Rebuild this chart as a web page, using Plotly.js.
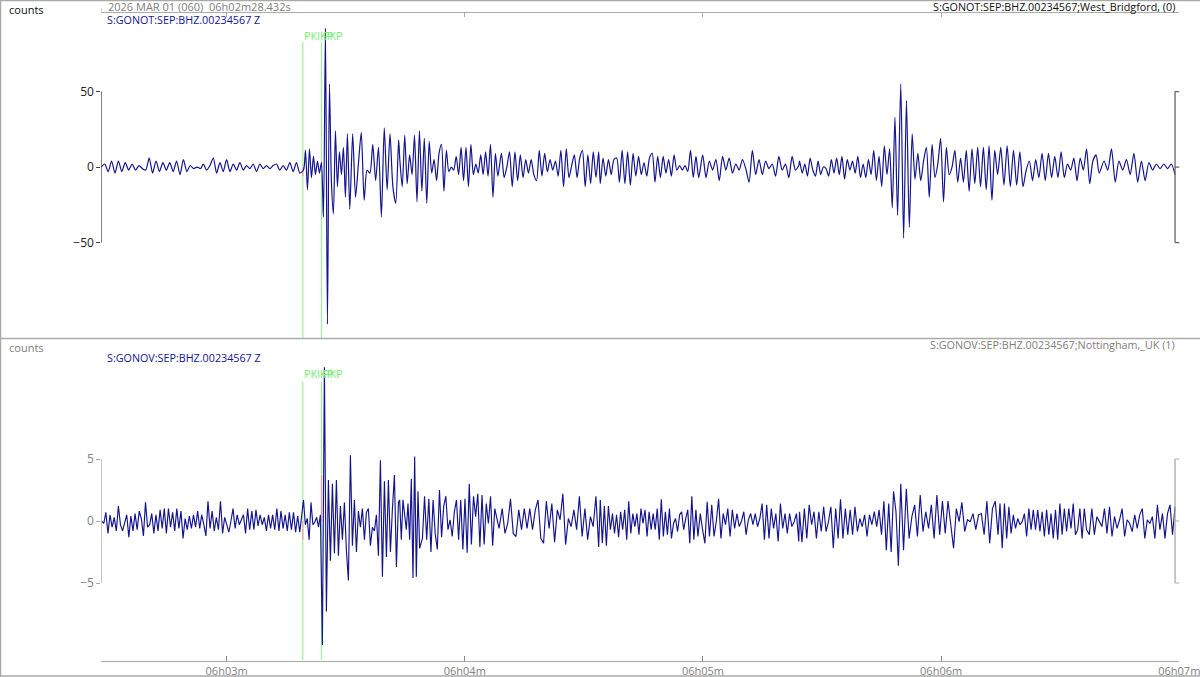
<!DOCTYPE html>
<html><head><meta charset="utf-8">
<script src="https://cdn.plot.ly/plotly-3.0.1.min.js"></script>
<style>html,body{margin:0;padding:0;background:#fff}</style></head>
<body><div id="chart" style="width:1200px;height:677px"></div>
<script>
// Time in seconds after 06h02m28.432s
const tickSeconds = [31.568, 91.568, 151.568, 211.568, 271.568];
const tickLabels = ["06h03m", "06h04m", "06h05m", "06h06m", "06h07m"];
const phaseTimes = [50.76, 55.47];
const phaseNames = ["PKIKP", "PKP"];
const topTicks = [-50, 0, 50];
const bottomTicks = [-5, 0, 5];

const top1 = [0,2,-3,4,-4,4,-3,3,-2,2,-2,1,-1,-2,6,-4,4,-3,3,-2,3,-3,4,-5,5,-3,1,-1,0,-1];
const top2 = [2,-2,1,6,-4,3,-3,5,-3,2,-2,3,-2,1,-1,2,-3,2,-1,1,-1,1,2,-2,1,-2,3,-3,3,-4];
const top3 = [-2,11,-15,12,-7,7,-5,4,-4,3,-33,92,-104,55,-10,-31,24,-13,10,-5,13,-20,22];
const top4 = [-28,22,-20,2,23,-22,-2,-4,15,-9,13,-33,26,-15,22,-13,-24,18];
const top5 = [5,-13,21,-11,8,-5,21,-23,24,-16,19,-24,17,-4,5,-9,9,15,-16,11,-3,0,-2,7,-5,13,-9,13,-13,15,-5,2,-4,8,-5,10,-6,15,-20,9,-6];
const top6 = [9,-7,0,10,-13,10,-9,8,-7,5,-4,5,-5,-9,11,-6,9,-3,5,-2,4,-6,11,-13,12,-7,1,8,-7,6,11,-13,8,-11,10,-7,10];
const top7 = [-11,6,-6,5,-5,5,6,-10,11,-11,10,-12,9,-6,7,-5,3,-6,6,9,-10,7,-7,7,-4,5,-6,8,-2,1,-2,1,-3,11,-7,7,-7];
const top8 = [8,-7,4,-2,5,-9,7,-2,6,-4,2,-2,5,-1,-10,11,-5,5,-5,4,-1,2,-6,7,-2,2,-7,7,-2,1];
const top9 = [4,-4,2,-6,6,-2,-6,4,-5,0,-1,-6,5,-4,6,-5,7,-8,5,-2,4,-4,7,-7,2,-7,5,-5,11,-9,7,-13,14,-5,12,-27,33,-32];
const top10 = [55,-47,44,-40,22,-8,9,-9,4,13,-20,15,-7,2,19,-23,13,-5,0,11,-10,6,-10,11,-16,12,-11,13,-13,13,-15,14,-22,11,-5];
const top11 = [13,-12,14,-13,11,-12,10,-13,-2,4,-9,5,-7,9,-9,9,-7,7,-7,10,-7,2,-2,6,-9,6,-2,12,-11,4,8,-4];
const top12 = [4,-2,12,-10,4,-2,5,-5,9,-10,4,-9,3,-2,2,-1,2,-1,2,-5];
const topSpans = [[0,25],[25.7,50],[50.93,62],[62.6,74.9],[75.2,99.9],[100.8,125.3],[125.7,150.5],[151.5,175.7],[175.9,200.6],[201.4,225.8],[226.6,251.4],[252.6,270.5]];

const bot1 = [0,-.2,.7,-1,.5,-.5,.3,-.8,1.2,-.3,-.8,-.1,.5,-1.3,.4,-.8,.6,-.7,.8,.2,-1.2,1.5,-.5,-.3,.6,-1,.5,-.8,.9,-.6,1,-1,1,-.5,.7,-.8,1,-.6,.8,-1.4,.2,-.7,.4,-.6,.5,-.5,.8,-.6];
const bot2 = [.5,-.3,-1.2,1.6,-.6,.8,-.8,.3,-.7,1.6,-1,.3,-.4,-.9,0,1,-.6,.5,-.3,.1,.5,-1,1,-.7,.8,-.7,.9,-.4,.5,-.3,.3,-.8,.5,-.6,.5,-.7,1,-.8,.8,-.6,.5,-.8,.7,-.7,.7,-.9,.4,-.9];
const bot3 = [1.7,-.3,.2,-1.5,1.5,-.3,-.1,.3,-.5,.5];
const bot4 = [-10,12.4,-7.3,3.3,-3.2,3,-2.6,3.3,-2.8,1.2,-1.5,1.5,-2.4,-4.8,5.3,-2,1.7,-2.5,.8,-.5,1,-1.5,.7,1,-2,-.5,-.8,.5,-2.8,4.9,-4.5,3.2,-2.9,3.3,-2.5,1,3.7,-3.7,1.5];
const bot5 = [1.7,-1.5,1.7,.3,-.7,1.4,-1.5,3.4,-4.6,5.2,-4.5,2.4,-2.2];
const bot6 = [-1.4,2,-1.5,1.8,-2.5,1.7,-1,-2.3,2.5,-1.3,1.2,2,-.7,.1,-1.25,.75,1.7,-1.5,1.7,-2.3,1.8,-2.55,3,-1.9,2,.35,2.2,-2.1,2.1,-1.9,1.4,-.2,2,-2,1,.1,-.6];
const bot7 = [1,-1,-.2,1.8,-1,-1.25,.9,-.7,1,-.6,1,-.7,.9,1.7,-1.4,-1.8,1.6,-.6,1.4,-1.7,.9,.1,2.2,-1.9,.2,-.45,.9,-.7,2,-1.25,1,-1.5,.35,-.45,2,-2.1];
const bot8 = [1.7,-1.8,1.2,-2,1.2,-.7,.6,-1,.5,-1.3,.75,-.7,.9,-1.5,1.6,-1,.6,-.45,.6,-1.1,1,-.2,.9,-1.25,.75,-.7,.6,-.7,1,-1.5,1.75,-1.25,.75,-1.1,1,-1.4,-.2,.2,-.85,.5,.75,-.7,.2,.9,-1.8,2,-1.5,.9,-1.25];
const bot9 = [.6,-.7,-1.8,1.55,-1.25,1.3,-1.25,0,1.8,-1.4,.6,-.3,1,-1.25,.9,-.6,.6,-.45,0,.75,-1.1,.1,.6,-.3,.6,-.45,.2,1.4,-1.5,1.3,-1.4,1,-.6,.6,-1.65,1.4,-.6,.6,-1,.6,-.45,-.05,.6,-1.65];
const bot10 = [.75,-1.7,1,-1.4,1.3,-.3,.75,-1.4,.75,-.85,1.15,-.85,-.05,1.15,-2.2,1,-1.4,1.75,-1.4,1,-1.1,.9,-1.1,1.15,-.85,.2,-.45,.5,-1.25,.5,-.3,.75,-.45,.9,-1.1,1.6,-2.35,1.4,-2.5,2.4,.75,-3.6];
const bot11 = [3,-2.35,2.6,-1.4,.35,1.3,-1.25,2.1,-.85,.75,-.6,1.3,-1.4,2.1,-1.1,1.6,-1,1.6,-.3,-2.2,1,-.05,1.5,-.85,.1,-.05,.6,-.7,.5,.6,-1.1,1.6,-1.8,1,1.6,-1.1];
const bot12 = [1.4,-2.2,1.4,-1.4,1.15,-1,.5,-.6,.2,-.3,-.05,.6,-1.25,1,-.7,.9,-.7,.9,-.85,.75,-1.25,.9,-1.1,.6,-1.4,.9,-1.5,1.4,-1.1,1,-.85,1,-.6,1.4,-1.1,-.7,1,-1.4,1,-.7];
const bot13 = [-1.1,1,-1.1,.35,-.05,-.45,1,-1,1.15,-1.25,.35,-.6,.1,1,-1.25,.1,-.2,-.85,.5,-.6,.5,1,-1.4,.1,-.2,.35,-1.4,1.3,-.7,.6,-1.4,.6,1.3,-1.1,1.15];
const botSpans = [[.1,24.8],[25.3,50],[50.93,55.2],[55.7,74.85],[75.16,80.2],[80.9,100.2],[101,125.3],[125.7,150.3],[150.9,175.7],[175.9,200.8],[201.4,225.9],[226.4,248.2],[248.9,270.5]];

function join(parts, spans){
  const xs=[], ys=[];
  parts.forEach((vals,i)=>{
    const [a,b]=spans[i];
    vals.forEach((v,j)=>{ xs.push(a+(b-a)*j/(vals.length-1)); ys.push(v); });
  });
  return {xs,ys};
}
const T = join([top1,top2,top3,top4,top5,top6,top7,top8,top9,top10,top11,top12], topSpans);
const B = join([bot1,bot2,bot3,bot4,bot5,bot6,bot7,bot8,bot9,bot10,bot11,bot12,bot13], botSpans);

const W=1200, H=677;
const px=p=>p/W, py=p=>1-p/H;
const navy='#14148f', green='#9cf09c', greenText='#74ee74', pink='#ee9aa0';
const dark='#444', mid='#aaaaaa', txtGrey='#808080';
const FONT='"Open Sans", sans-serif';
const tEnd=270.5, xMax=271.568, tStub=1.2;

const data=[
 {x:T.xs,y:T.ys,xaxis:'x2',yaxis:'y',mode:'lines',line:{color:navy,width:1.2,shape:'spline',smoothing:0.7},hoverinfo:'skip',showlegend:false},
 {x:B.xs,y:B.ys,xaxis:'x',yaxis:'y2',mode:'lines',line:{color:navy,width:1.15},hoverinfo:'skip',showlegend:false}
];

const ln=(o,color,w)=>Object.assign({type:'line',line:{color:color,width:w||1}},o);
const shapes=[];
// frame
shapes.push(ln({xref:'paper',yref:'paper',x0:0,x1:1,y0:py(.5),y1:py(.5)},mid,1.5));
shapes.push(ln({xref:'paper',yref:'paper',x0:px(.5),x1:px(.5),y0:0,y1:1},mid,1.5));
shapes.push(ln({xref:'paper',yref:'paper',x0:0,x1:1,y0:py(338.5),y1:py(338.5)},mid,1.5));
shapes.push(ln({xref:'paper',yref:'paper',x0:0,x1:1,y0:py(676),y1:py(676)},mid,1.5));
shapes.push(ln({xref:'x2',yref:'paper',x0:0,x1:0,y0:py(8.5),y1:py(13)},mid,1));
// phases
phaseTimes.forEach(t=>{
  shapes.push(ln({xref:'x2',yref:'y',x0:t,x1:t,y0:-113.2,y1:82.8,layer:'below'},green,1.2));
  shapes.push(ln({xref:'x',yref:'y2',x0:t,x1:t,y0:-11.25,y1:11.23,layer:'below'},green,1.2));
});
// picks
shapes.push(ln({xref:'x2',yref:'y',x0:phaseTimes[0],x1:phaseTimes[0],y0:-6,y1:0,layer:'below'},pink,1.2));
shapes.push(ln({xref:'x2',yref:'y',x0:phaseTimes[1],x1:phaseTimes[1],y0:0,y1:4,layer:'below'},pink,1.2));
shapes.push(ln({xref:'x',yref:'y2',x0:phaseTimes[0],x1:phaseTimes[0],y0:-1.5,y1:0,layer:'below'},pink,1.2));
shapes.push(ln({xref:'x',yref:'y2',x0:phaseTimes[1],x1:phaseTimes[1],y0:0,y1:3.7,layer:'below'},pink,1.2));
// value brackets
[[topTicks,'x2','y',dark,'#666'],[bottomTicks,'x','y2',mid,mid]].forEach(([tk,xr,yr,cl,cr])=>{
  shapes.push(ln({xref:xr,yref:yr,x0:0,x1:0,y0:tk[0],y1:tk[2]},cl,1.3));
  shapes.push(ln({xref:xr,yref:yr,x0:tEnd,x1:tEnd,y0:tk[0],y1:tk[2]},cr,1.3));
  tk.forEach(v=>shapes.push(ln({xref:xr,yref:yr,x0:tEnd,x1:tEnd+tStub,y0:v,y1:v},cr,1.2)));
});

const note=(text,x,y,color,anchor,size)=>({text,xref:'paper',yref:'paper',x:px(x),y:py(y),xanchor:anchor||'left',yanchor:'middle',showarrow:false,borderpad:0,font:{family:FONT,size:size||10.75,color}});
const annotations=[
 note('counts',7.5,9,'#111',null,11),
 note('counts',7.5,347.5,txtGrey,null,11),
 note('2026 MAR 01 (060)  06h02m28.432s',106.5,6.5,txtGrey,null,11),
 note('S:GONOT:SEP:BHZ.00234567 Z',106,19.5,navy),
 note('S:GONOV:SEP:BHZ.00234567 Z',106,358,navy),
 note('S:GONOT:SEP:BHZ.00234567;West_Bridgford, (0)',1176,7,'#111','right'),
 note('S:GONOV:SEP:BHZ.00234567;Nottingham,_UK (1)',1176,345.5,txtGrey,'right'),
 note(phaseNames[0],303,35.5,greenText),
 note(phaseNames[1],322,35.5,greenText),
 note(phaseNames[0],303,374,greenText),
 note(phaseNames[1],322,374,greenText)
];

const xDom=[px(101.3),px(1179.3)];
const layout={
 width:W,height:H,margin:{l:0,r:0,t:0,b:0},paper_bgcolor:'#fff',plot_bgcolor:'#fff',showlegend:false,
 font:{family:FONT,size:11,color:txtGrey},
 xaxis:{domain:xDom,range:[0,xMax],anchor:'y2',side:'bottom',tickmode:'array',tickvals:tickSeconds,ticktext:tickLabels,ticklabeloverflow:'allow',ticks:'inside',ticklen:5,tickcolor:'#888',showline:true,linecolor:mid,linewidth:1.5,showgrid:false,zeroline:false,tickfont:{family:FONT,size:11,color:txtGrey}},
 xaxis2:{domain:xDom,range:[0,xMax],anchor:'y',side:'top',tickmode:'array',tickvals:tickSeconds,ticks:'inside',ticklen:4,tickcolor:'#aaa',showticklabels:false,showline:true,linecolor:mid,linewidth:1.5,showgrid:false,zeroline:false},
 yaxis:{domain:[py(338),py(13)],range:[-113.2,102],anchor:'x2',tickmode:'array',tickvals:topTicks,ticks:'outside',ticklen:4,tickcolor:dark,showline:false,showgrid:false,zeroline:false,tickfont:{family:FONT,size:12,color:'#222'}},
 yaxis2:{domain:[py(660.5),py(338)],range:[-11.25,14.76],anchor:'x',tickmode:'array',tickvals:bottomTicks,ticks:'outside',ticklen:4,tickcolor:mid,showline:false,showgrid:false,zeroline:false,tickfont:{family:FONT,size:12,color:txtGrey}},
 shapes,annotations
};
Plotly.newPlot('chart',data,layout,{displayModeBar:false,staticPlot:true});
</script></body></html>
